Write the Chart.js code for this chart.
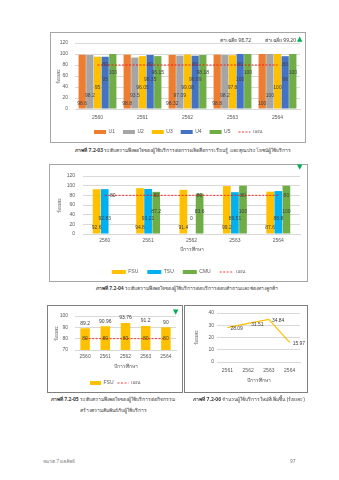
<!DOCTYPE html>
<html>
<head>
<meta charset="utf-8">
<script src="https://cdn.jsdelivr.net/npm/chart.js@4.4.0/dist/chart.umd.min.js"></script>
<style>
  body { margin: 0; background: #fff; width: 339px; height: 480px; position: relative; overflow: hidden;
         font-family: "Noto Sans", "DejaVu Sans", sans-serif; color: #404040; }
  .box { position: absolute; border: 1px solid #a6a6a6; box-sizing: border-box; background: #fff; }
  .box.dark { border-color: #7f7f7f; }
  .box canvas { position: absolute; left: 0; top: 0; }
  .txt { position: absolute; font-size: 5px; white-space: nowrap; line-height: 6px; }
  .cap { text-align: center; transform: translateX(-50%); }
  .tri { position: absolute; color: #00b050; font-size: 7px; line-height: 7px; }
  .avg { background: #fff; color: #404040; padding: 0 1px; }
</style>
</head>
<body>

<div class="box" style="left:50px;top:32px;width:256px;height:111px;"><canvas id="c1" width="254" height="109"></canvas></div>
<span class="txt avg" style="left:219px;top:37px;">ค่าเฉลี่ย 98.72</span>
<span class="txt avg" style="left:264px;top:37px;">ค่าเฉลี่ย 99.20</span>
<span class="tri" style="left:297px;top:35px;">▲</span>
<div class="txt cap" style="left:183px;top:147px;"><b>ภาพที่ 7.2-03</b> ระดับความพึงพอใจของผู้ใช้บริการต่อการผลิตสื่อการเรียนรู้ และคุณประโยชน์ผู้ใช้บริการ</div>

<div class="box" style="left:49px;top:164px;width:259px;height:118px;"><canvas id="c2" width="257" height="116"></canvas></div>
<span class="tri" style="left:297px;top:163px;">▼</span>
<div class="txt cap" style="left:187px;top:285px;"><b>ภาพที่ 7.2-04</b> ระดับความพึงพอใจของผู้ใช้บริการต่อบริการตอบคำถามและช่องทางลูกค้า</div>

<div class="box dark" style="left:47px;top:305px;width:136px;height:88px;"><canvas id="c3" width="134" height="86"></canvas></div>
<span class="tri" style="left:173px;top:308px;">▼</span>
<div class="txt cap" style="left:113px;top:396px;"><b>ภาพที่ 7.2-05</b> ระดับความพึงพอใจของผู้ใช้บริการต่อกิจกรรม</div>
<div class="txt cap" style="left:113px;top:407px;">สร้างความสัมพันธ์กับผู้ใช้บริการ</div>

<div class="box dark" style="left:184px;top:305px;width:124px;height:88px;"><canvas id="c4" width="122" height="86"></canvas></div>
<div class="txt cap" style="left:249px;top:396px;"><b>ภาพที่ 7.2-06</b> จำนวนผู้ใช้บริการใหม่ที่เพิ่มขึ้น (ร้อยละ)</div>

<span class="txt" style="left:43px;top:458px;color:#7f7f7f;">หมวด 7 ผลลัพธ์</span>
<span class="txt" style="left:290px;top:458px;color:#7f7f7f;">97</span>

<script>
// ข้อมูลกราฟ 7.2-03
const years = ['2560', '2561', '2562', '2563', '2564'];
const u1 = [98.6, 98.8, 98.32, 98.8, 100];
const u2 = [98.2, 93.5, 97.09, 98.2, 100];
const u3 = [95, 96.05, 99.08, 97.8, 100];
const u4 = [95, 98.35, 96.89, 100, 96];
const u5 = [100, 96.15, 98.18, 100, 100];
const plan1 = [80, 80, 80, 80, 80];

// ข้อมูลกราฟ 7.2-04
const fsu2 = [92.6, 94.8, 91.4, 99.2, 87.6];
const tsu2 = [92.83, 93.21, 0, 86.51, 88.8];
const cmu2 = [null, 87.2, 83.6, 100, 100];
const plan2 = [80, 80, 80, 80, 80];

// ข้อมูลกราฟ 7.2-05
const fsu3 = [89.2, 90.96, 93.76, 91.2, 90];
const plan3 = [80, 80, 80, 80, 80];

// ข้อมูลกราฟ 7.2-06
const years4 = ['2561', '2562', '2563', '2564'];
const newUsers = [28.09, 31.51, 34.84, 15.97];

Chart.defaults.font.family = '"Liberation Sans", "Noto Sans", sans-serif';
Chart.defaults.font.size = 5;
Chart.defaults.color = '#595959';
Chart.defaults.animation = false;

// วาดตัวเลขบนแท่ง/จุด
const valueLabels = {
  id: 'valueLabels',
  afterDatasetsDraw(chart) {
    const ctx = chart.ctx;
    const ys = chart.scales.y;
    ctx.save();
    ctx.font = '5px "Liberation Sans", sans-serif';
    ctx.fillStyle = '#404040';
    ctx.textBaseline = 'middle';
    chart.data.datasets.forEach((ds, i) => {
      const lab = ds.lab;
      if (!lab) return;
      const meta = chart.getDatasetMeta(i);
      const anchor = lab.anchor != null ? chart.getDatasetMeta(lab.anchor) : meta;
      meta.data.forEach((el, j) => {
        const v = ds.data[j];
        if (v == null) return;
        const x = anchor.data[j].x + (lab.dx || 0);
        let y;
        if (lab.at === 'top') y = el.y - 5;
        else if (lab.at === 'point') y = el.y + (lab.dy || 0);
        else y = ys.getPixelForValue(lab.at);
        ctx.textAlign = lab.align || 'center';
        ctx.fillText(String(v), x, y);
      });
    });
    ctx.restore();
  }
};

function legendOpts(pad, swatch, maxH) {
  return {
    position: 'bottom',
    maxHeight: maxH,
    labels: {
      usePointStyle: true,
      pointStyleWidth: swatch,
      boxHeight: 4,
      padding: pad,
      color: '#595959',
      font: { size: 5 },
      sort: (a, b) => a.datasetIndex - b.datasetIndex,
      generateLabels(chart) {
        const items = Chart.defaults.plugins.legend.labels.generateLabels(chart);
        items.forEach((it) => {
          const ds = chart.data.datasets[it.datasetIndex];
          if (ds.type === 'line') {
            it.pointStyle = 'line';
            it.lineDash = [2, 1.5];
            it.strokeStyle = '#FF0000';
            it.lineWidth = 0.8;
          } else {
            it.pointStyle = 'rect';
            it.lineWidth = 0;
          }
        });
        return items;
      }
    }
  };
}

function planSet(data, anchor) {
  return {
    type: 'line', label: 'แผน', data: data, order: -1,
    borderColor: '#FF0000', borderWidth: 0.8, borderDash: [2, 1.5],
    pointRadius: 0, lab: { at: 80, anchor: anchor }
  };
}

function yAxis(min, max, step, width, pad) {
  return {
    min: min, max: max,
    ticks: { stepSize: step, padding: pad, color: '#595959' },
    grid: { color: '#D9D9D9', drawTicks: false },
    border: { display: false },
    title: { display: true, text: 'ร้อยละ', padding: 0, color: '#595959' },
    afterFit(s) { s.width = width; }
  };
}

function xAxis(height, pad, titlePadBottom) {
  const ax = {
    offset: true,
    grid: { display: false, drawTicks: false },
    border: { color: '#D9D9D9' },
    ticks: { padding: pad, color: '#595959', maxRotation: 0, autoSkip: false },
    afterFit(s) { s.height = height; }
  };
  if (titlePadBottom != null) {
    ax.title = { display: true, text: 'ปีการศึกษา', padding: { top: 0, bottom: titlePadBottom }, color: '#595959' };
  }
  return ax;
}

// กราฟ 7.2-03
new Chart(document.getElementById('c1'), {
  type: 'bar',
  data: {
    labels: years,
    datasets: [
      { label: 'U1', data: u1, backgroundColor: '#ED7D31', lab: { at: 10 } },
      { label: 'U2', data: u2, backgroundColor: '#A5A5A5', lab: { at: 24 } },
      { label: 'U3', data: u3, backgroundColor: '#FFC000', lab: { at: 39 } },
      { label: 'U4', data: u4, backgroundColor: '#4472C4', lab: { at: 54 } },
      { label: 'U5', data: u5, backgroundColor: '#70AD47', lab: { at: 66 } },
      planSet(plan1, 3)
    ]
  },
  options: {
    responsive: false,
    categoryPercentage: 0.85,
    barPercentage: 0.95,
    layout: { padding: { top: 5, right: 5, left: 5, bottom: 0 } },
    plugins: { legend: legendOpts(8, 12, 20.5), tooltip: { enabled: false } },
    scales: { x: xAxis(12.5, 6, null), y: yAxis(0, 120, 20, 19, 7) }
  },
  plugins: [valueLabels]
});

// กราฟ 7.2-04
new Chart(document.getElementById('c2'), {
  type: 'bar',
  data: {
    labels: years,
    datasets: [
      { label: 'FSU', data: fsu2, backgroundColor: '#FFC000', lab: { at: 13 } },
      { label: 'TSU', data: tsu2, backgroundColor: '#00B0F0', lab: { at: 31 } },
      { label: 'CMU', data: cmu2, backgroundColor: '#70AD47', lab: { at: 47 } },
      planSet(plan2, 2)
    ]
  },
  options: {
    responsive: false,
    categoryPercentage: 0.56,
    barPercentage: 0.95,
    layout: { padding: { top: 5, right: 7, left: 7, bottom: 0 } },
    plugins: { legend: legendOpts(9, 14, 20.5), tooltip: { enabled: false } },
    scales: { x: xAxis(26.5, 4, 7.5), y: yAxis(0, 120, 20, 26, 8) }
  },
  plugins: [valueLabels]
});

// กราฟ 7.2-05
new Chart(document.getElementById('c3'), {
  type: 'bar',
  data: {
    labels: years,
    datasets: [
      { label: 'FSU', data: fsu3, backgroundColor: '#FFC000', lab: { at: 'top' } },
      planSet(plan3, 0)
    ]
  },
  options: {
    responsive: false,
    categoryPercentage: 0.47,
    barPercentage: 1,
    layout: { padding: { top: 7, right: 6, left: 6, bottom: 0 } },
    plugins: { legend: legendOpts(4, 11, 15.5), tooltip: { enabled: false } },
    scales: { x: xAxis(26.5, 4, 6.5), y: yAxis(70, 100, 10, 21, 7) }
  },
  plugins: [valueLabels]
});

// กราฟ 7.2-06
new Chart(document.getElementById('c4'), {
  type: 'line',
  data: {
    labels: years4,
    datasets: [
      { label: 'ร้อยละ', data: newUsers, borderColor: '#FFC000', borderWidth: 1.2,
        pointRadius: 0, tension: 0, lab: { at: 'point', dx: 3, dy: 1, align: 'left' } }
    ]
  },
  options: {
    responsive: false,
    layout: { padding: { top: 7, right: 7, left: 9, bottom: 8 } },
    plugins: { legend: { display: false }, tooltip: { enabled: false } },
    scales: { x: xAxis(22, 6, 0), y: yAxis(0, 40, 10, 23, 3) }
  },
  plugins: [valueLabels]
});
</script>
</body>
</html>
